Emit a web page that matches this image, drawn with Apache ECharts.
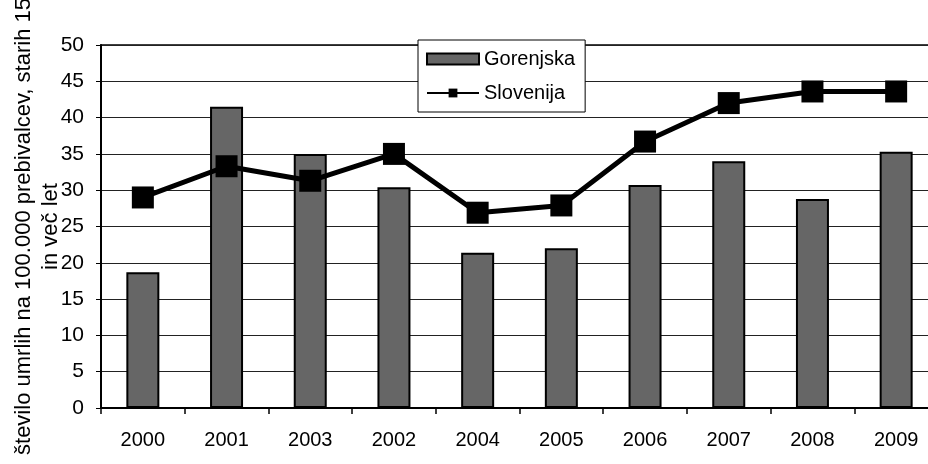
<!DOCTYPE html>
<html>
<head>
<meta charset="utf-8">
<script src="https://cdn.jsdelivr.net/npm/echarts@6/dist/echarts.min.js"></script>
<style>
html, body { margin: 0; padding: 0; background: #fff; }
#chart { width: 928px; height: 464px; }
</style>
</head>
<body>
<div id="chart"></div>
<script>
// categories as printed on the chart (2003 comes before 2002)
const years = ['2000', '2001', '2003', '2002', '2004', '2005', '2006', '2007', '2008', '2009']
const gorenjska = [18.7, 41.5, 35.0, 30.4, 21.4, 22.0, 30.7, 34.0, 28.8, 35.3]
const slovenija = [29.0, 33.3, 31.3, 35.0, 26.9, 27.9, 36.7, 42.0, 43.6, 43.6]
const yName = 'število umrlih na 100.000 prebivalcev, starih 15\nin več let'

const font = 'Liberation Sans, Arial, sans-serif'
const myChart = echarts.init(document.getElementById('chart'))

const option = {
  backgroundColor: '#fff',
  animation: false,
  textStyle: { fontFamily: font, color: '#000' },
  grid: {
    left: 101,
    top: 45,
    bottom: 56,
    right: -10,
    containLabel: false,
    outerBoundsMode: 'none',
    show: true,
    borderColor: '#000',
    borderWidth: 1.5
  },
  legend: {
    data: [{ name: 'Gorenjska', icon: 'rect' }, { name: 'Slovenija' }],
    orient: 'vertical',
    left: 418,
    top: 40,
    padding: [9, 10, 9, 8],
    itemGap: 14,
    itemWidth: 52,
    itemHeight: 11,
    backgroundColor: '#fff',
    borderColor: '#000',
    borderWidth: 1,
    textStyle: { fontFamily: font, fontSize: 20, color: '#000' }
  },
  xAxis: {
    type: 'category',
    data: years,
    axisLine: { lineStyle: { color: '#000', width: 2 } },
    axisTick: { show: true, length: 6, lineStyle: { color: '#000', width: 1.5 } },
    axisLabel: { fontFamily: font, fontSize: 20, color: '#000', margin: 22 }
  },
  yAxis: {
    type: 'value',
    min: 0,
    max: 50,
    interval: 5,
    name: yName,
    nameLocation: 'middle',
    nameRotate: 90,
    nameGap: 37,
    nameMoveOverlap: false,
    nameTextStyle: { fontFamily: font, fontSize: 22, color: '#000', lineHeight: 27, align: 'center' },
    axisLine: { show: true, lineStyle: { color: '#000', width: 2 } },
    axisTick: { show: true, length: 5, lineStyle: { color: '#000' } },
    splitLine: { show: true, lineStyle: { color: '#222', width: 1 } },
    axisLabel: { fontFamily: font, fontSize: 21, color: '#000', margin: 17 }
  },
  series: [
    {
      name: 'Gorenjska',
      type: 'bar',
      barWidth: 33,
      itemStyle: {
        color: '#666',
        borderColor: '#000',
        borderWidth: 2
      },
      data: gorenjska
    },
    {
      name: 'Slovenija',
      type: 'line',
      symbol: 'rect',
      symbolSize: 22,
      lineStyle: { color: '#000', width: 5 },
      itemStyle: { color: '#000' },
      data: slovenija,
      z: 5
    }
  ]
}
myChart.setOption(option)
</script>
</body>
</html>
